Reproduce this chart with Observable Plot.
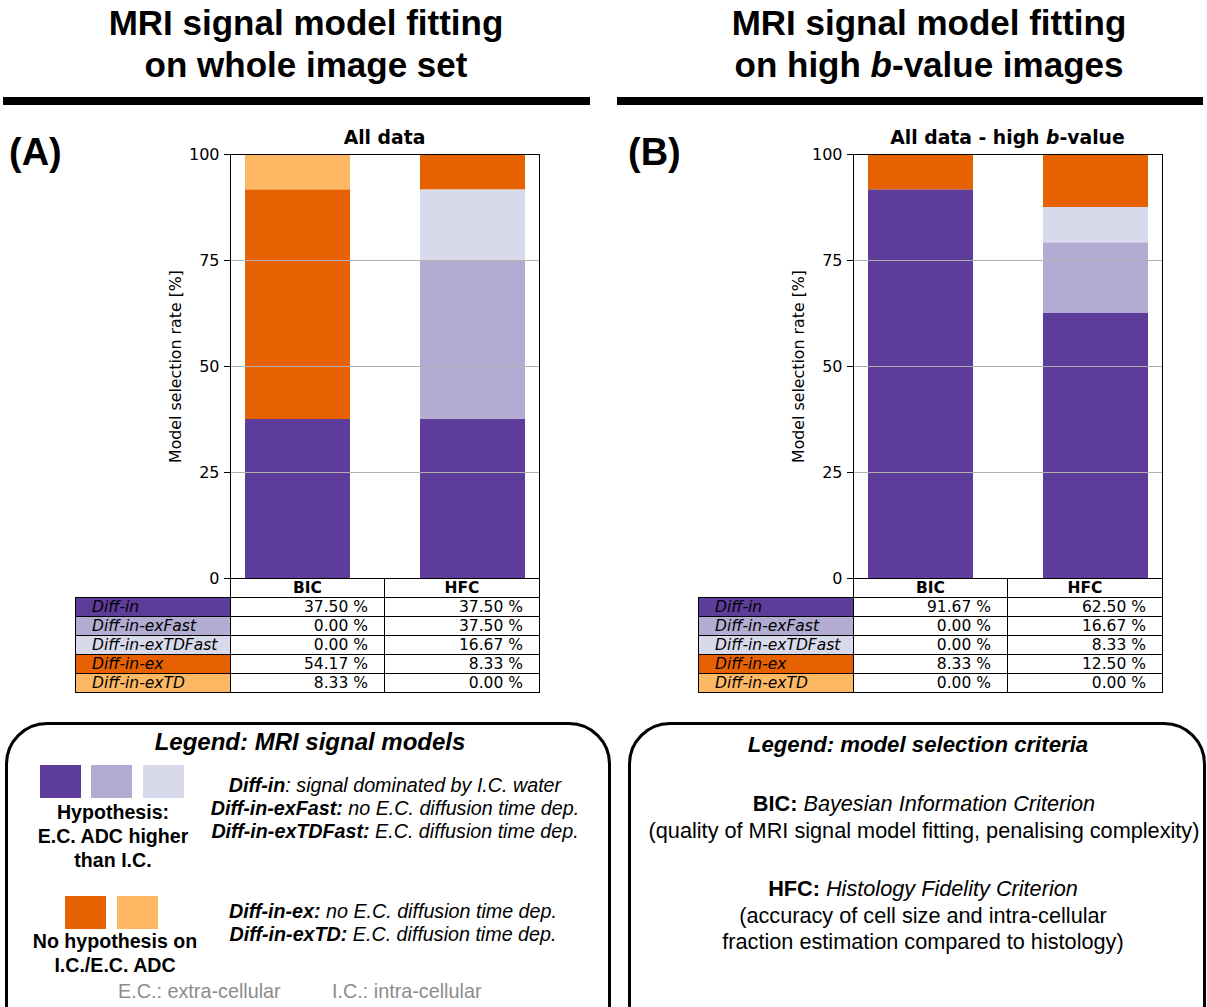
<!DOCTYPE html>
<html><head><meta charset="utf-8">
<script src="https://cdn.jsdelivr.net/npm/d3@7"></script>
<script src="https://cdn.jsdelivr.net/npm/@observablehq/plot@0.6"></script>
<style>
html,body{margin:0;padding:0;background:#fff;}
body{width:1207px;height:1007px;position:relative;overflow:hidden;font-family:"Liberation Sans",Arial,sans-serif;color:#000;}
.abs{position:absolute;}
.head{font-weight:bold;font-size:35px;line-height:42px;text-align:center;white-space:nowrap;}
.rule{background:#000;height:8px;}
.letter{font-weight:bold;font-size:38px;}
.ctitle{font-family:"DejaVu Sans";font-weight:bold;font-size:18.8px;line-height:22px;text-align:center;white-space:nowrap;}
table.t{border-collapse:collapse;font-family:"DejaVu Sans";font-size:15.5px;table-layout:fixed;}
table.t tr{height:19px;}
table.t td{border:1.5px solid #000;padding:0 16px;line-height:16px;white-space:nowrap;}
table.t td.lab{font-style:italic;text-align:left;}
table.t td.val{text-align:right;}
table.t td.hd{font-weight:bold;text-align:center;}
table.t td.corner{border:none;}
.box{border:3px solid #000;border-radius:42px;box-sizing:border-box;}
.ltitle{font-weight:bold;font-style:italic;text-align:center;white-space:nowrap;}
.sw{width:41px;height:33px;}
.hyp{font-weight:bold;font-size:19.6px;line-height:24px;text-align:center;white-space:nowrap;}
.desc{font-style:italic;font-size:19.7px;line-height:23px;text-align:center;white-space:nowrap;}
.desc b{font-weight:bold;}
.foot{color:#8c8c8c;font-size:19.8px;white-space:nowrap;}
.crit{font-size:21.7px;line-height:26.5px;text-align:center;white-space:nowrap;}
</style></head><body>
<script>
// ---------- data ----------
const models = ["Diff-in", "Diff-in-exFast", "Diff-in-exTDFast", "Diff-in-ex", "Diff-in-exTD"];
const colors = ["#5e3c99", "#b2abd2", "#d8daeb", "#e66101", "#fdb863"];
const criteria = ["BIC", "HFC"];
const allBIC  = [37.50, 0.00, 0.00, 54.17, 8.33];
const allHFC  = [37.50, 37.50, 16.67, 8.33, 0.00];
const highBIC = [91.67, 0.00, 0.00, 8.33, 0.00];
const highHFC = [62.50, 16.67, 8.33, 12.50, 0.00];
const yTicks = [0, 25, 50, 75, 100];

function el(tag, cls, style, html) {
  const e = document.createElement(tag);
  if (cls) e.className = cls;
  if (style) Object.assign(e.style, style);
  if (html != null) e.innerHTML = html;
  document.body.appendChild(e);
  return e;
}

function chart(bic, hfc) {
  const data = [];
  criteria.forEach((c, j) => {
    const vals = j === 0 ? bic : hfc;
    models.forEach((m, i) => data.push({crit: c, model: m, value: vals[i]}));
  });
  return Plot.plot({
    width: 391, height: 456,
    marginLeft: 80, marginRight: 2, marginTop: 30, marginBottom: 2,
    style: {fontFamily: "'DejaVu Sans'", fontSize: "16px", color: "#000", background: "transparent", overflow: "visible"},
    x: {type: "band", domain: criteria, paddingInner: 0.4, paddingOuter: 0.08, axis: null},
    y: {domain: [0, 100], axis: null},
    color: {domain: models, range: colors},
    marks: [
      Plot.barY(data, Plot.stackY({x: "crit", y: "value", fill: "model"})),
      Plot.gridY(yTicks, {stroke: "#b0b0b0", strokeOpacity: 1, strokeWidth: 1}),
      Plot.frame({stroke: "#000", strokeWidth: 1}),
      Plot.axisY(yTicks, {tickSize: 6, tickPadding: 5, stroke: "#000", fontSize: 16, label: null}),
      Plot.text(["Model selection rate [%]"], {frameAnchor: "left", textAnchor: "middle", dx: -55, rotate: -90, fontSize: 15.8, fill: "#000"})
    ]
  });
}

function table(bic, hfc, left) {
  const t = el("table", "t abs", {left: left + "px", top: "578px", width: "464px"});
  let html = '<colgroup><col style="width:155px"><col style="width:154px"><col style="width:155px"></colgroup>';
  html += '<tr><td class="corner"></td>' + criteria.map(c => '<td class="hd">' + c + '</td>').join("") + '</tr>';
  models.forEach((m, i) => {
    html += '<tr><td class="lab" style="background:' + colors[i] + '">' + m + '</td>' +
      '<td class="val">' + bic[i].toFixed(2) + ' %</td>' +
      '<td class="val">' + hfc[i].toFixed(2) + ' %</td></tr>';
  });
  t.innerHTML = html;
}

function panel(plotLeft, bic, hfc, title) {
  const svg = chart(bic, hfc);
  svg.style.position = "absolute";
  svg.style.left = (plotLeft - 80) + "px";
  svg.style.top = "124px";
  document.body.appendChild(svg);
  el("div", "ctitle abs", {left: (plotLeft - 100) + "px", width: "509px", top: "127px"}, title);
  table(bic, hfc, plotLeft - 155);
}

// headings
el("div", "head abs", {left: "6px", width: "600px", top: "2px"}, "MRI signal model fitting<br>on whole image set");
el("div", "head abs", {left: "629px", width: "600px", top: "2px"}, "MRI signal model fitting<br>on high <i>b</i>-value images");
el("div", "rule abs", {left: "3px", width: "587px", top: "97px"});
el("div", "rule abs", {left: "617px", width: "586px", top: "97px"});
el("div", "letter abs", {left: "9px", top: "131px"}, "(A)");
el("div", "letter abs", {left: "628px", top: "131px"}, "(B)");

panel(230, allBIC, allHFC, "All data");
panel(853, highBIC, highHFC, "All data - high <i>b</i>-value");

// legend: models
el("div", "box abs", {left: "5px", top: "722px", width: "606px", height: "330px"});
el("div", "ltitle abs", {left: "10px", width: "600px", top: "728px", fontSize: "24px"}, "Legend: MRI signal models");
[40, 91, 143].forEach((x, i) => el("div", "sw abs", {left: x + "px", top: "765px", background: colors[i]}));
[65, 117].forEach((x, i) => el("div", "sw abs", {left: x + "px", top: "896px", background: colors[i + 3]}));
el("div", "hyp abs", {left: "13px", width: "200px", top: "800px"}, "Hypothesis:<br>E.C. ADC higher<br>than I.C.");
el("div", "hyp abs", {left: "15px", width: "200px", top: "929px"}, "No hypothesis on<br>I.C./E.C. ADC");
el("div", "desc abs", {left: "195px", width: "400px", top: "774px"},
  "<b>" + models[0] + "</b>: signal dominated by I.C. water<br><b>" + models[1] + ":</b> no E.C. diffusion time dep.<br><b>" + models[2] + ":</b> E.C. diffusion time dep.");
el("div", "desc abs", {left: "193px", width: "400px", top: "900px"},
  "<b>" + models[3] + ":</b> no E.C. diffusion time dep.<br><b>" + models[4] + ":</b> E.C. diffusion time dep.");
el("div", "foot abs", {left: "118px", top: "980px"}, "E.C.: extra-cellular");
el("div", "foot abs", {left: "332px", top: "980px"}, "I.C.: intra-cellular");

// legend: criteria
el("div", "box abs", {left: "628px", top: "722px", width: "578px", height: "330px"});
el("div", "ltitle abs", {left: "618px", width: "600px", top: "732px", fontSize: "22.2px"}, "Legend: model selection criteria");
el("div", "crit abs", {left: "624px", width: "600px", top: "791px"},
  "<b>BIC:</b> <i>Bayesian Information Criterion</i><br>(quality of MRI signal model fitting, penalising complexity)");
el("div", "crit abs", {left: "623px", width: "600px", top: "876px"},
  "<b>HFC:</b> <i>Histology Fidelity Criterion</i><br>(accuracy of cell size and intra-cellular<br>fraction estimation compared to histology)");
</script>
</body></html>
